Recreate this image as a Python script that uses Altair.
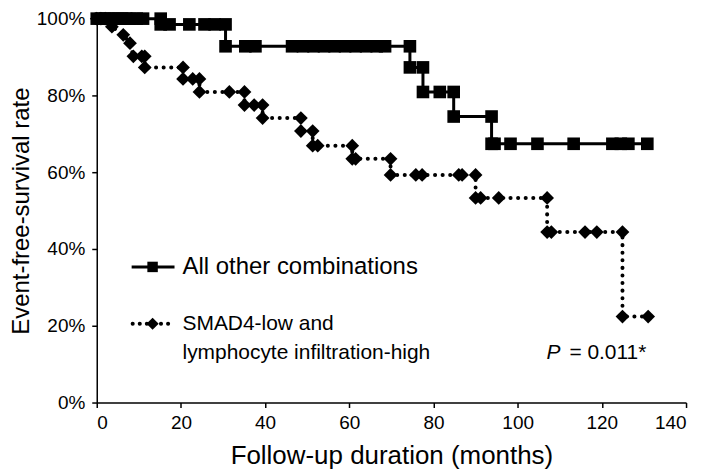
import altair as alt
import pandas as pd

# ---- data ----
up_months = [0, 1, 2, 3, 4, 5, 6, 7, 8, 9.5, 11, 15.2, 15.2, 17.3, 22, 25.6, 28, 30.6, 30.6,
             35.3, 37.7, 46.4, 49, 51.5, 54, 56.5, 59, 61.5, 64, 66.5, 68.5, 74.4, 74.4, 77.5,
             77.5, 81.5, 84.8, 84.8, 93.8, 93.8, 94.5, 98.3, 104.7, 113.3, 122.5, 124.5, 126.3, 130.8]
up_surv = [100, 100, 100, 100, 100, 100, 100, 100, 100, 100, 100, 100, 98.5, 98.5, 98.5, 98.5, 98.5, 98.5, 92.8,
           92.8, 92.8, 92.8, 92.8, 92.8, 92.8, 92.8, 92.8, 92.8, 92.8, 92.8, 92.8, 92.8, 87.3, 87.3,
           80.9, 80.9, 80.9, 74.5, 74.5, 67.4, 67.4, 67.4, 67.4, 67.4, 67.4, 67.4, 67.4, 67.4]

low_months = [0, 1, 2, 3.6, 6.3, 7.9, 8.7, 10.7, 11.4, 11.4, 20.5, 20.5, 22.8, 24.4, 24.4, 31.5, 35.1,
              35.1, 37.4, 39.4, 39.4, 48.5, 48.5, 51.3, 51.3, 52.5, 60.7, 60.7, 61.5, 69.8, 69.8,
              75.8, 77.3, 86, 86.8, 90, 90, 91.2, 95.5, 107, 107, 108, 116, 118.8, 124.9, 124.9, 131]
low_surv = [100, 100, 100, 97.9, 95.8, 93.6, 90.2, 90.2, 90.2, 87.3, 87.3, 84.3, 84.3, 84.3, 80.9, 80.9, 80.9,
            77.5, 77.5, 77.5, 74.1, 74.1, 70.7, 70.7, 66.9, 66.9, 66.9, 63.5, 63.5, 63.5, 59.3,
            59.3, 59.3, 59.3, 59.3, 59.3, 53.3, 53.3, 53.3, 53.3, 44.4, 44.4, 44.4, 44.4, 44.4, 22.4, 22.4]

x_ticks = [0, 20, 40, 60, 80, 100, 120, 140]
y_ticks = [0, 20, 40, 60, 80, 100]
legend_labels = ["All other combinations", "SMAD4-low and", "lymphocyte infiltration-high"]
p_label = "P"
p_value = "= 0.011*"

FONT = "Liberation Sans"

up = pd.DataFrame({"month": up_months, "surv": up_surv, "order": list(range(len(up_months)))})
low = pd.DataFrame({"month": low_months, "surv": low_surv, "order": list(range(len(low_months)))})
one = pd.DataFrame({"k": [0]})

TOP = 10          # plot top offset inside svg (page y = TOP + 8)
W, H = 591, 385

x_enc = alt.X("month:Q",
              scale=alt.Scale(domain=[0, 140], nice=False, zero=False),
              axis=alt.Axis(values=x_ticks, title="Follow-up duration (months)",
                            labelPadding=6, titlePadding=10, titleFontSize=26))
y_enc = alt.Y("surv:Q",
              scale=alt.Scale(domain=[0, 100], nice=False),
              axis=alt.Axis(values=y_ticks, labelExpr="datum.value + '%'",
                            title="Event-free-survival rate", labelPadding=7, titlePadding=3,
                            titleFontSize=24))

low_line = alt.Chart(low).mark_line(color="black", strokeWidth=4, strokeDash=[0.1, 7.5],
                                    strokeCap="round").encode(x=x_enc, y=y_enc, order="order:Q")
low_pts = alt.Chart(low).mark_point(shape="diamond", filled=True, size=190, color="black",
                                    opacity=1).encode(x=x_enc, y=y_enc)
up_line = alt.Chart(up).mark_line(color="black", strokeWidth=3).encode(x=x_enc, y=y_enc, order="order:Q")
up_pts = alt.Chart(up).mark_point(shape="square", filled=True, size=160, color="black",
                                  opacity=1).encode(x=x_enc, y=y_enc)

# ---- legend and annotation (pixel positions inside the plot area) ----
L1, L2, L3 = 267 - 8 - TOP, 324 - 8 - TOP, 353 - 8 - TOP
leg_line1 = alt.Chart(one).mark_rule(color="black", strokeWidth=3).encode(
    x=alt.value(35), x2=alt.value(78), y=alt.value(L1))
leg_sq = alt.Chart(one).mark_point(shape="square", filled=True, size=110, color="black", opacity=1).encode(
    x=alt.value(56), y=alt.value(L1))
leg_txt1 = alt.Chart(one).mark_text(text=legend_labels[0], align="left", baseline="middle",
                                    fontSize=24, font=FONT, color="black").encode(
    x=alt.value(86), y=alt.value(L1))
leg_line2 = alt.Chart(one).mark_rule(color="black", strokeWidth=4, strokeDash=[0.1, 7],
                                     strokeCap="round").encode(
    x=alt.value(36), x2=alt.value(78), y=alt.value(L2))
leg_dm = alt.Chart(one).mark_point(shape="diamond", filled=True, size=150, color="black", opacity=1).encode(
    x=alt.value(56), y=alt.value(L2))
leg_txt2 = alt.Chart(one).mark_text(text=legend_labels[1], align="left", baseline="middle",
                                    fontSize=21, font=FONT, color="black").encode(
    x=alt.value(86), y=alt.value(L2))
leg_txt3 = alt.Chart(one).mark_text(text=legend_labels[2], align="left", baseline="middle",
                                    fontSize=21, font=FONT, color="black").encode(
    x=alt.value(86), y=alt.value(L3))
p_txt1 = alt.Chart(one).mark_text(text=p_label, align="left", baseline="middle", fontSize=21,
                                  fontStyle="italic", font=FONT, color="black").encode(
    x=alt.value(451), y=alt.value(L3))
p_txt2 = alt.Chart(one).mark_text(text=p_value, align="left", baseline="middle", fontSize=21,
                                  font=FONT, color="black").encode(
    x=alt.value(474), y=alt.value(L3))

chart = alt.layer(
    low_line, low_pts, up_line, up_pts,
    leg_line1, leg_sq, leg_txt1, leg_line2, leg_dm, leg_txt2, leg_txt3, p_txt1, p_txt2
).properties(
    width=W, height=H,
    autosize=alt.AutoSizeParams(type="none"),
    padding={"left": 89, "top": TOP, "right": 15, "bottom": 70},
    background="white",
).configure_view(stroke=None).configure_axis(
    grid=False, domainColor="black", domainWidth=1.5, tickColor="black", tickWidth=1.5,
    tickSize=5, labelFont=FONT, labelFontSize=19, labelColor="black",
    titleFont=FONT, titleFontWeight="normal", titleColor="black",
)

chart.save("out.html", embed_options={"renderer": "svg", "actions": False})
